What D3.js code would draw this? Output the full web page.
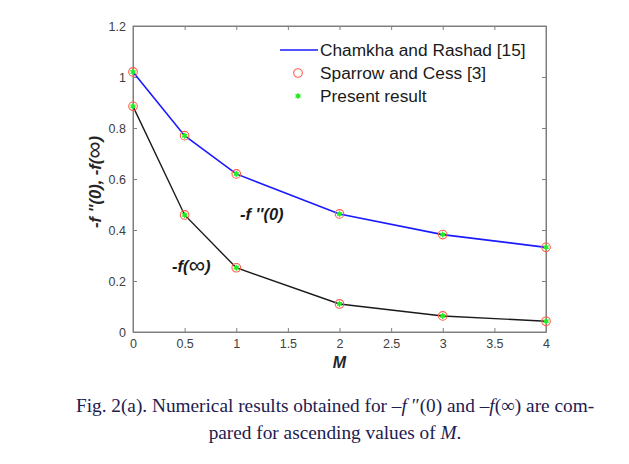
<!DOCTYPE html>
<html><head><meta charset="utf-8">
<script src="https://cdn.jsdelivr.net/npm/d3@7"></script>
<style>body{margin:0;background:#fff;}svg{display:block;}</style>
</head><body>
<svg id="c" width="629" height="464"></svg>
<script>
const M = [0, 0.5, 1, 2, 3, 4];
const fpp0 = [1.020, 0.770, 0.620, 0.463, 0.382, 0.332];
const finf = [0.885, 0.459, 0.252, 0.110, 0.063, 0.042];
const xTicks = [0, 0.5, 1, 1.5, 2, 2.5, 3, 3.5, 4];
const yTicks = [0, 0.2, 0.4, 0.6, 0.8, 1, 1.2];
const legendLabels = ["Chamkha and Rashad [15]", "Sparrow and Cess [3]", "Present result"];

const svg = d3.select("#c");
const L = 133, R = 546, T = 26, B = 332;
const x = d3.scaleLinear().domain([0, 4]).range([L, R]);
const y = d3.scaleLinear().domain([0, 1.2]).range([B, T]);
const axCol = "#7f7f7f", txtCol = "#404040";
const sans = "Liberation Sans, Arial, sans-serif";

svg.append("rect").attr("x", L).attr("y", T).attr("width", R - L).attr("height", B - T)
  .attr("fill", "none").attr("stroke", axCol).attr("stroke-width", 1);

const fmt = d => String(d);
const gx = svg.append("g").attr("transform", `translate(0,${B})`)
  .call(d3.axisBottom(x).tickValues(xTicks).tickFormat(fmt).tickSizeInner(-4).tickSizeOuter(0).tickPadding(7));
const gxt = svg.append("g").attr("transform", `translate(0,${T})`)
  .call(d3.axisTop(x).tickValues(xTicks).tickFormat("").tickSizeInner(-4).tickSizeOuter(0));
const gy = svg.append("g").attr("transform", `translate(${L},0)`)
  .call(d3.axisLeft(y).tickValues(yTicks).tickFormat(fmt).tickSizeInner(-4).tickSizeOuter(0).tickPadding(7));
const gyr = svg.append("g").attr("transform", `translate(${R},0)`)
  .call(d3.axisRight(y).tickValues(yTicks).tickFormat("").tickSizeInner(-4).tickSizeOuter(0));
[gx, gxt, gy, gyr].forEach(g => {
  g.select(".domain").attr("stroke", axCol);
  g.selectAll(".tick line").attr("stroke", axCol);
  g.selectAll(".tick text").attr("fill", txtCol).attr("font-family", sans).attr("font-size", 12.5);
});

const line = d3.line().x((d, i) => x(M[i])).y(d => y(d));
svg.append("path").attr("d", line(fpp0)).attr("fill", "none").attr("stroke", "#1a1aff").attr("stroke-width", 1.6);
svg.append("path").attr("d", line(finf)).attr("fill", "none").attr("stroke", "#1a1a1a").attr("stroke-width", 1.4);

function marker(g, cx, cy) {
  g.append("circle").attr("cx", cx).attr("cy", cy).attr("r", 4.3).attr("fill", "none")
    .attr("stroke", "#ff5a4a").attr("stroke-width", 1.1);
}
function star(g, cx, cy, s) {
  const c = "#22ee22";
  g.append("circle").attr("cx", cx).attr("cy", cy).attr("r", s * 0.7).attr("fill", c);
  [0, 60, 120].forEach(a => {
    const r = a * Math.PI / 180;
    g.append("line").attr("x1", cx - s * Math.sin(r)).attr("y1", cy - s * Math.cos(r))
      .attr("x2", cx + s * Math.sin(r)).attr("y2", cy + s * Math.cos(r))
      .attr("stroke", c).attr("stroke-width", 1.2);
  });
}
const mg = svg.append("g");
[fpp0, finf].forEach(s => s.forEach((v, i) => { marker(mg, x(M[i]), y(v)); star(mg, x(M[i]), y(v), 3); }));

// axis labels
svg.append("text").attr("x", x(2)).attr("y", 368).attr("text-anchor", "middle")
  .attr("font-family", sans).attr("font-size", 16).attr("font-weight", "bold").attr("font-style", "italic")
  .attr("fill", "#262626").text("M");
const yl = svg.append("text").attr("transform", `translate(101,${(T + B) / 2 + 3}) rotate(-90)`).attr("text-anchor", "middle")
  .attr("font-family", sans).attr("font-size", 16.5).attr("font-weight", "bold").attr("font-style", "italic")
  .attr("fill", "#262626");
yl.append("tspan").text("-f ''(0), -f(");
yl.append("tspan").attr("font-size", 24).attr("font-weight", "normal").attr("dy", 1).text("\u221E");
yl.append("tspan").attr("dy", -1).text(")");

// annotations
svg.append("text").attr("x", 240).attr("y", y(0.44)).attr("font-family", sans).attr("font-size", 16.5)
  .attr("font-weight", "bold").attr("font-style", "italic").attr("fill", "#1a1a1a").text("-f ''(0)");
const a2 = svg.append("text").attr("x", 172).attr("y", y(0.237)).attr("font-family", sans).attr("font-size", 16.5)
  .attr("font-weight", "bold").attr("font-style", "italic").attr("fill", "#1a1a1a");
a2.append("tspan").text("-f(");
a2.append("tspan").attr("font-size", 23).attr("font-weight", "normal").attr("dy", 1).text("\u221E");
a2.append("tspan").attr("dy", -1).text(")");

// legend
const lg = svg.append("g");
const lx = 280, ly = [50, 73, 96];
lg.append("line").attr("x1", lx).attr("x2", lx + 38).attr("y1", ly[0]).attr("y2", ly[0]).attr("stroke", "#1a1aff").attr("stroke-width", 1.6);
marker(lg, lx + 18, ly[1]);
star(lg, lx + 18, ly[2], 3);
legendLabels.forEach((t, i) => {
  lg.append("text").attr("x", 320).attr("y", ly[i] + 6).attr("font-family", sans).attr("font-size", 17.3)
    .attr("fill", "#1a1a1a").text(t);
});

// caption
const serif = "Liberation Serif, Times New Roman, serif";
const cap = svg.append("text").attr("font-family", serif).attr("font-size", 19.3).attr("fill", "#1c2050").attr("text-anchor", "middle");
const l1 = cap.append("tspan").attr("x", 335).attr("y", 412);
l1.append("tspan").text("Fig. 2(a). Numerical results obtained for \u2013");
l1.append("tspan").attr("font-style", "italic").text("f");
l1.append("tspan").text(" \u2033(0) and \u2013");
l1.append("tspan").attr("font-style", "italic").text("f");
l1.append("tspan").text("(\u221E) are com-");
const l2 = cap.append("tspan").attr("x", 335).attr("y", 439);
l2.append("tspan").text("pared for ascending values of ");
l2.append("tspan").attr("font-style", "italic").text("M");
l2.append("tspan").text(".");
</script>
</body></html>
